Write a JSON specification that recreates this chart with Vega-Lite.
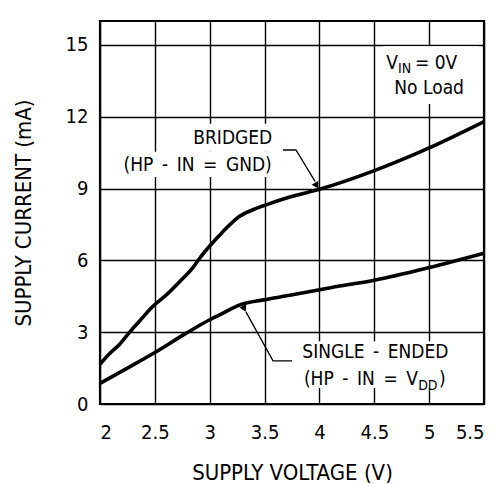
{
  "$schema": "https://vega.github.io/schema/vega-lite/v6.json",
  "width": 384,
  "height": 383,
  "autosize": "none",
  "padding": {"left": 100, "top": 21, "right": 14, "bottom": 80},
  "background": "white",
  "config": {
    "font": "DejaVu Sans Condensed",
    "view": {"stroke": "black", "strokeWidth": 2.2},
    "axis": {
      "labelFont": "DejaVu Sans Condensed",
      "titleFont": "DejaVu Sans Condensed",
      "labelColor": "black",
      "titleColor": "black",
      "labelFontWeight": "normal",
      "titleFontWeight": "normal",
      "grid": true,
      "gridColor": "black",
      "gridOpacity": 1,
      "gridWidth": 1.4,
      "domain": false,
      "ticks": false
    }
  },
  "datasets": {
    "curves": [
      {"series": "Bridged", "v": 2.0, "i": 1.66},
      {"series": "Bridged", "v": 2.09, "i": 2.12},
      {"series": "Bridged", "v": 2.18, "i": 2.5},
      {"series": "Bridged", "v": 2.27, "i": 3.0},
      {"series": "Bridged", "v": 2.365, "i": 3.49},
      {"series": "Bridged", "v": 2.48, "i": 4.07},
      {"series": "Bridged", "v": 2.61, "i": 4.58},
      {"series": "Bridged", "v": 2.73, "i": 5.13},
      {"series": "Bridged", "v": 2.85, "i": 5.72},
      {"series": "Bridged", "v": 2.91, "i": 6.1},
      {"series": "Bridged", "v": 3.0, "i": 6.6},
      {"series": "Bridged", "v": 3.12, "i": 7.2},
      {"series": "Bridged", "v": 3.276, "i": 7.85},
      {"series": "Bridged", "v": 3.43, "i": 8.18},
      {"series": "Bridged", "v": 3.5, "i": 8.3},
      {"series": "Bridged", "v": 3.73, "i": 8.65},
      {"series": "Bridged", "v": 4.0, "i": 8.97},
      {"series": "Bridged", "v": 4.5, "i": 9.75},
      {"series": "Bridged", "v": 5.0, "i": 10.7},
      {"series": "Bridged", "v": 5.5, "i": 11.8},
      {"series": "Single-ended", "v": 2.0, "i": 0.86},
      {"series": "Single-ended", "v": 2.25, "i": 1.5},
      {"series": "Single-ended", "v": 2.5, "i": 2.15},
      {"series": "Single-ended", "v": 2.79, "i": 2.97},
      {"series": "Single-ended", "v": 3.0, "i": 3.52},
      {"series": "Single-ended", "v": 3.09, "i": 3.72},
      {"series": "Single-ended", "v": 3.28, "i": 4.15},
      {"series": "Single-ended", "v": 3.49, "i": 4.35},
      {"series": "Single-ended", "v": 3.73, "i": 4.54},
      {"series": "Single-ended", "v": 4.1, "i": 4.86},
      {"series": "Single-ended", "v": 4.5, "i": 5.17},
      {"series": "Single-ended", "v": 5.0, "i": 5.7},
      {"series": "Single-ended", "v": 5.5, "i": 6.3}
    ],
    "boxes": [
      {"v": 2.775, "v2": 3.64, "i": 11.71, "i2": 10.54},
      {"v": 2.18, "v2": 3.64, "i": 10.54, "i2": 9.48},
      {"v": 4.58, "v2": 5.45, "i": 14.95, "i2": 12.53},
      {"v": 3.78, "v2": 5.24, "i": 2.62, "i2": 0.67}
    ],
    "leaders": [
      {"g": "a", "o": 1, "v": 3.668, "i": 10.61},
      {"g": "a", "o": 2, "v": 3.786, "i": 10.61},
      {"g": "a", "o": 3, "v": 3.96, "i": 9.3},
      {"g": "b", "o": 1, "v": 3.75, "i": 1.8},
      {"g": "b", "o": 2, "v": 3.577, "i": 1.8},
      {"g": "b", "o": 3, "v": 3.33, "i": 3.85}
    ],
    "heads": [
      {"v": 3.975, "i": 9.12, "angle": 329},
      {"v": 3.315, "i": 3.98, "angle": 333}
    ],
    "labels": [
      {"v": 3.21, "i": 11.12, "text": "BRIDGED"},
      {"v": 2.89, "i": 9.98, "text": "(HP\u2002-\u2002IN\u2002=\u2002GND)"},
      {"v": 4.51, "i": 2.19, "text": "SINGLE\u2002-\u2002ENDED"},
      {"v": 5.0, "i": 13.2, "text": "No Load"}
    ],
    "rightLabels": [
      {"v": 4.898, "i": 1.06, "text": "(HP\u2002-\u2002IN\u2002=\u2002V"},
      {"v": 4.716, "i": 14.26, "text": "V"}
    ],
    "leftLabels": [
      {"v": 5.09, "i": 1.06, "text": ")"},
      {"v": 4.87, "i": 14.26, "text": "= 0V"}
    ],
    "subs": [
      {"v": 4.9, "i": 0.75, "text": "DD"},
      {"v": 4.716, "i": 14.0, "text": "IN"}
    ]
  },
  "layer": [
    {
      "data": {"name": "boxes"},
      "mark": {"type": "rect", "color": "white"},
      "encoding": {
        "x": {"field": "v", "type": "quantitative", "scale": {"domain": [2, 5.5]},
          "axis": {"values": [2, 2.5, 3, 3.5, 4, 4.5, 5, 5.5], "format": "~g", "title": "SUPPLY VOLTAGE (V)",
            "labelFontSize": 20, "labelPadding": 18, "titleFontSize": 22, "titlePadding": 20, "zindex": 0}},
        "x2": {"field": "v2"},
        "y": {"field": "i", "type": "quantitative", "scale": {"domain": [0, 15]},
          "axis": {"values": [0, 3, 6, 9, 12, 15], "title": "SUPPLY CURRENT (mA)",
            "labelFontSize": 20, "labelPadding": 12, "titleFontSize": 22, "titlePadding": 30, "zindex": 0}},
        "y2": {"field": "i2"}
      }
    },
    {
      "data": {"name": "curves"},
      "mark": {"type": "line", "color": "black", "strokeWidth": 3.6, "interpolate": "monotone"},
      "encoding": {
        "x": {"field": "v", "type": "quantitative"},
        "y": {"field": "i", "type": "quantitative"},
        "detail": {"field": "series"}
      }
    },
    {
      "data": {"name": "leaders"},
      "mark": {"type": "line", "color": "black", "strokeWidth": 1.3},
      "encoding": {
        "x": {"field": "v", "type": "quantitative"},
        "y": {"field": "i", "type": "quantitative"},
        "detail": {"field": "g"},
        "order": {"field": "o"}
      }
    },
    {
      "data": {"name": "heads"},
      "mark": {"type": "point", "shape": "triangle-down", "filled": true, "color": "black", "size": 60, "opacity": 1},
      "encoding": {
        "x": {"field": "v", "type": "quantitative"},
        "y": {"field": "i", "type": "quantitative"},
        "angle": {"field": "angle", "type": "quantitative", "scale": null}
      }
    },
    {
      "data": {"name": "labels"},
      "mark": {"type": "text", "fontSize": 19, "color": "black", "align": "center", "baseline": "middle"},
      "encoding": {
        "x": {"field": "v", "type": "quantitative"},
        "y": {"field": "i", "type": "quantitative"},
        "text": {"field": "text"}
      }
    },
    {
      "data": {"name": "rightLabels"},
      "mark": {"type": "text", "fontSize": 19, "color": "black", "align": "right", "baseline": "middle"},
      "encoding": {
        "x": {"field": "v", "type": "quantitative"},
        "y": {"field": "i", "type": "quantitative"},
        "text": {"field": "text"}
      }
    },
    {
      "data": {"name": "leftLabels"},
      "mark": {"type": "text", "fontSize": 19, "color": "black", "align": "left", "baseline": "middle"},
      "encoding": {
        "x": {"field": "v", "type": "quantitative"},
        "y": {"field": "i", "type": "quantitative"},
        "text": {"field": "text"}
      }
    },
    {
      "data": {"name": "subs"},
      "mark": {"type": "text", "fontSize": 14, "color": "black", "align": "left", "baseline": "middle"},
      "encoding": {
        "x": {"field": "v", "type": "quantitative"},
        "y": {"field": "i", "type": "quantitative"},
        "text": {"field": "text"}
      }
    }
  ]
}
